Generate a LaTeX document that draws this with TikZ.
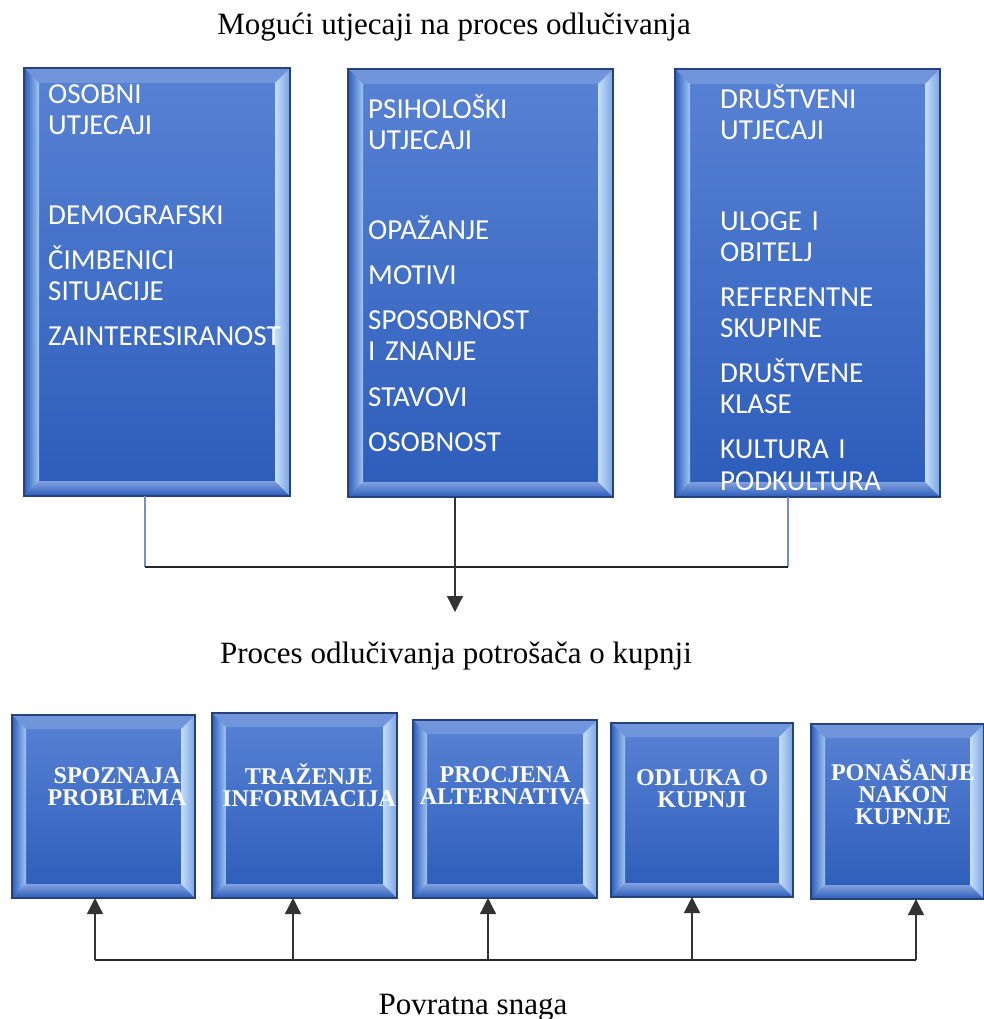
\documentclass[tikz,border=0pt]{standalone}
\usepackage{fontspec}
\setmainfont{Liberation Serif}
\newfontfamily\boxfont{Carlito}
\usetikzlibrary{arrows.meta}
\definecolor{FaceTop}{RGB}{88,130,212}
\definecolor{FaceBot}{RGB}{44,92,186}
\definecolor{BoxEdge}{RGB}{38,66,124}
\definecolor{Glint}{RGB}{172,210,248}
\definecolor{LinkBlue}{RGB}{118,142,196}

\tikzset{
  bevel/.style={draw=BoxEdge, line width=1.2pt, top color=FaceTop, bottom color=FaceBot,
    inner sep=0pt, outer sep=0pt, anchor=north west,
    path picture={
      \path (path picture bounding box.north west) coordinate (o1)
            (path picture bounding box.north east) coordinate (o2)
            (path picture bounding box.south east) coordinate (o3)
            (path picture bounding box.south west) coordinate (o4);
      \path (o1) ++(#1,#1) coordinate (i1)
            (o2) ++(-#1,#1) coordinate (i2)
            (o3) ++(-#1,-#1) coordinate (i3)
            (o4) ++(#1,-#1) coordinate (i4);
      \fill[FaceTop!85!white] (o1)--(o2)--(i2)--(i1)--cycle;
      \shade[top color=FaceTop!75!white, bottom color=FaceBot] (o4)--(o3)--(i3)--(i4)--cycle;
      \shade[left color=FaceBot, right color=Glint!85!FaceTop] (o1)--(i1)--(i4)--(o4)--cycle;
      \shade[left color=Glint!70!white, right color=FaceTop!60!Glint] (o2)--(i2)--(i3)--(o3)--cycle;
    }},
  toptext/.style={font=\boxfont\fontsize{29}{31}\selectfont, text=white, text width=260pt,
    align=left, inner sep=0pt, anchor=base west},
  bottext/.style={font=\bfseries\fontsize{24}{22}\selectfont, text=white, text width=240pt,
    align=center, inner sep=0pt, anchor=base},
  heading/.style={font=\fontsize{31}{36}\selectfont, inner sep=0pt, anchor=base},
  feed/.style={-{Triangle[width=16pt,length=16pt]}, line width=1.3pt, black!80},
}

\begin{document}
\begin{tikzpicture}[x=1pt,y=-1pt]
\useasboundingbox (0,0) rectangle (984,1019);

\node[heading] (utjecajiTitle) at (454,35) {Mogući utjecaji na proces odlučivanja};

% three groups of influences
\node[bevel=15, minimum width=266pt, minimum height=428pt] (osobni) at (24,68) {};
\node[bevel=15, minimum width=265pt, minimum height=428pt] (psiholoski) at (348,69) {};
\node[bevel=15, minimum width=265pt, minimum height=428pt] (drustveni) at (675,69) {};

\node[toptext] (osobniTxt) at (48,104)
  {OSOBNI\\UTJECAJI\\[59pt]DEMOGRAFSKI\\[14pt]ČIMBENICI\\SITUACIJE\\[14pt]ZAINTERESIRANOST};
\node[toptext] (psiholoskiTxt) at (368,119)
  {PSIHOLOŠKI\\UTJECAJI\\[59pt]OPAŽANJE\\[14pt]MOTIVI\\[14pt]SPOSOBNOST\\I ZNANJE\\[14pt]STAVOVI\\[14pt]OSOBNOST};
\node[toptext] (drustveniTxt) at (720,109)
  {DRUŠTVENI\\UTJECAJI\\[60pt]ULOGE I\\OBITELJ\\[14pt]REFERENTNE\\SKUPINE\\[14pt]DRUŠTVENE\\KLASE\\[14pt]KULTURA I\\PODKULTURA};

\coordinate (jL) at (145,567);
\coordinate (jR) at (788,567);
\coordinate (jM) at (455,612);
\draw[LinkBlue, line width=1.1pt] (osobni.south -| jL) -- (jL);
\draw[LinkBlue, line width=1.1pt] (drustveni.south -| jR) -- (jR);
\draw[black!85, line width=1.8pt] (jL) -- (jR);
\draw[feed] (psiholoski.south -| jM) -- (jM);

\node[heading] (procesTitle) at (456,663) {Proces odlučivanja potrošača o kupnji};

% five stages of the decision process
\node[bevel=14, minimum width=183pt, minimum height=183pt] (spoznaja) at (12,715) {};
\node[bevel=14, minimum width=185pt, minimum height=185pt] (trazenje) at (212,713) {};
\node[bevel=14, minimum width=184pt, minimum height=178pt] (procjena) at (413,720) {};
\node[bevel=14, minimum width=182pt, minimum height=174pt] (odluka) at (611,723) {};
\node[bevel=14, minimum width=173pt, minimum height=175pt] (ponasanje) at (811,724) {};

\node[bottext] (spoznajaTxt) at (117,783) {SPOZNAJA\\PROBLEMA};
\node[bottext] (trazenjeTxt) at (309,784) {TRAŽENJE\\INFORMACIJA};
\node[bottext] (procjenaTxt) at (505,782) {PROCJENA\\ALTERNATIVA};
\node[bottext] (odlukaTxt) at (702,785) {ODLUKA O\\KUPNJI};
\node[bottext] (ponasanjeTxt) at (903,780) {PONAŠANJE\\NAKON\\KUPNJE};

\coordinate (fb1) at (95,960);
\coordinate (fb2) at (293,960);
\coordinate (fb3) at (488,960);
\coordinate (fb4) at (692,960);
\coordinate (fb5) at (916,960);
\draw[black!85, line width=1.8pt] (fb1) -- (fb5);
\foreach \n [count=\i] in {spoznaja,trazenje,procjena,odluka,ponasanje}
  \draw[feed] (fb\i) -- (fb\i |- \n.south);

\node[heading] (povratnaTitle) at (473,1014) {Povratna snaga};
\end{tikzpicture}
\end{document}
